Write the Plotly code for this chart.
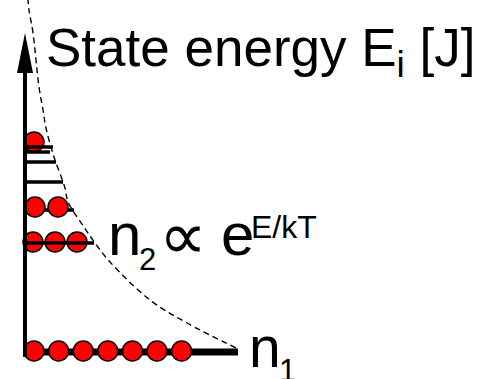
import plotly.graph_objects as go

# ---------------- data ----------------
# energy of each level (pixel-like units above the ground level)
level_energy = [0, 109, 142, 170, 190, 200, 205]
# horizontal extent of each level line
level_length = [213, 69, 49, 38, 31, 25, 28]
# number of particles on each level
occupancy = [7, 3, 2, 0, 0, 0, 1]

# dashed envelope curve (x, energy)
curve_x = [236, 187, 150, 110, 95, 84, 68, 65, 54, 46, 43, 39, 33, 29, 28]
curve_e = [4, 29, 52, 90, 109, 125, 150, 164, 195, 224, 242, 265, 319, 342, 352]

title_text = "State energy E<sub>i</sub> [J]"
# pieces of the label "n2 ∝ e^(E/kT)" and "n1"
n2_pieces = ["n", "2", "\u221d", "e", "E/kT"]
n1_pieces = ["n", "1"]

# ---------------- layout constants ----------------
W, H = 479, 379
AX_X = 25          # x of the vertical axis
E_TOP = 352        # energy at top of the canvas
E_BOT = -27        # energy at bottom of the canvas
FONT = "Liberation Sans, Arial, sans-serif"
SYM_FONT = "DejaVu Sans, sans-serif"
spacing = [24.6, 22, 23, 22, 22, 22, 22]
first_x = [34, 33, 35, 34, 34, 34, 34]
ball_lift = [1, 1, 3, 0, 0, 0, 5]
line_width = [7, 3.5, 3.5, 3.5, 3.5, 3.5, 3.5]
line_on_top = [False, True, False, True, True, True, True]

# label piece placement (x = left of text box, y = centre, size)
n2_x = [106, 137, 157, 218.5, 248.5]
n2_y = [117.8, 92.7, 116, 117.8, 125.1]
n2_size = [60, 31, 67, 60, 32]
n2_font = [FONT, FONT, SYM_FONT, FONT, FONT]
n2_weight = [400, 400, 200, 400, 400]
n1_x = [247, 276.5]
n1_y = [4.8, -18.3]
n1_size = [57, 31]

fig = go.Figure()

def add_level_line(i):
    fig.add_trace(go.Scatter(
        x=[AX_X, AX_X + level_length[i]],
        y=[level_energy[i], level_energy[i]],
        mode="lines", line=dict(color="black", width=line_width[i]),
        hoverinfo="skip", showlegend=False))

# dashed curve
fig.add_trace(go.Scatter(
    x=curve_x, y=curve_e, mode="lines",
    line=dict(color="black", width=1.4, dash="6px,4px", shape="spline"),
    hoverinfo="skip", showlegend=False))

for i in range(len(level_energy)):
    if not line_on_top[i]:
        add_level_line(i)

# particles
bx, by = [], []
for i, n in enumerate(occupancy):
    for k in range(n):
        bx.append(first_x[i] + k * spacing[i])
        by.append(level_energy[i] + ball_lift[i])
fig.add_trace(go.Scatter(
    x=bx, y=by, mode="markers",
    marker=dict(size=20, color="#ff0000", line=dict(color="black", width=1.5)),
    hoverinfo="skip", showlegend=False))

for i in range(len(level_energy)):
    if line_on_top[i]:
        add_level_line(i)

# vertical axis with arrow head
fig.add_shape(type="line", x0=AX_X, x1=AX_X, y0=-5, y1=E_TOP - 60,
              line=dict(color="black", width=4))
fig.add_shape(type="path",
              path=f"M {AX_X-8},{E_TOP-73} L {AX_X},{E_TOP-33} L {AX_X+8},{E_TOP-73} Z",
              fillcolor="black", line=dict(color="black", width=0))

# texts
fig.add_annotation(x=44, y=E_TOP - 51, text=title_text, showarrow=False,
                   xanchor="left", yanchor="middle",
                   font=dict(family=FONT, size=53, color="black"))
for txt, x, y, s, f, w in zip(n2_pieces, n2_x, n2_y, n2_size, n2_font, n2_weight):
    fig.add_annotation(x=x, y=y, text=txt, showarrow=False,
                       xanchor="left", yanchor="middle",
                       font=dict(family=f, size=s, color="black", weight=w))
for txt, x, y, s in zip(n1_pieces, n1_x, n1_y, n1_size):
    fig.add_annotation(x=x, y=y, text=txt, showarrow=False,
                       xanchor="left", yanchor="middle",
                       font=dict(family=FONT, size=s, color="black"))

fig.update_xaxes(range=[0, W], visible=False, fixedrange=True)
fig.update_yaxes(range=[E_BOT, E_TOP], visible=False, fixedrange=True)
fig.update_layout(width=W, height=H, margin=dict(l=0, r=0, t=0, b=0),
                  paper_bgcolor="white", plot_bgcolor="white")

fig.write_html("out.html", config={"displayModeBar": False},
               post_script="document.body.style.margin='0';document.body.style.overflow='hidden';")
